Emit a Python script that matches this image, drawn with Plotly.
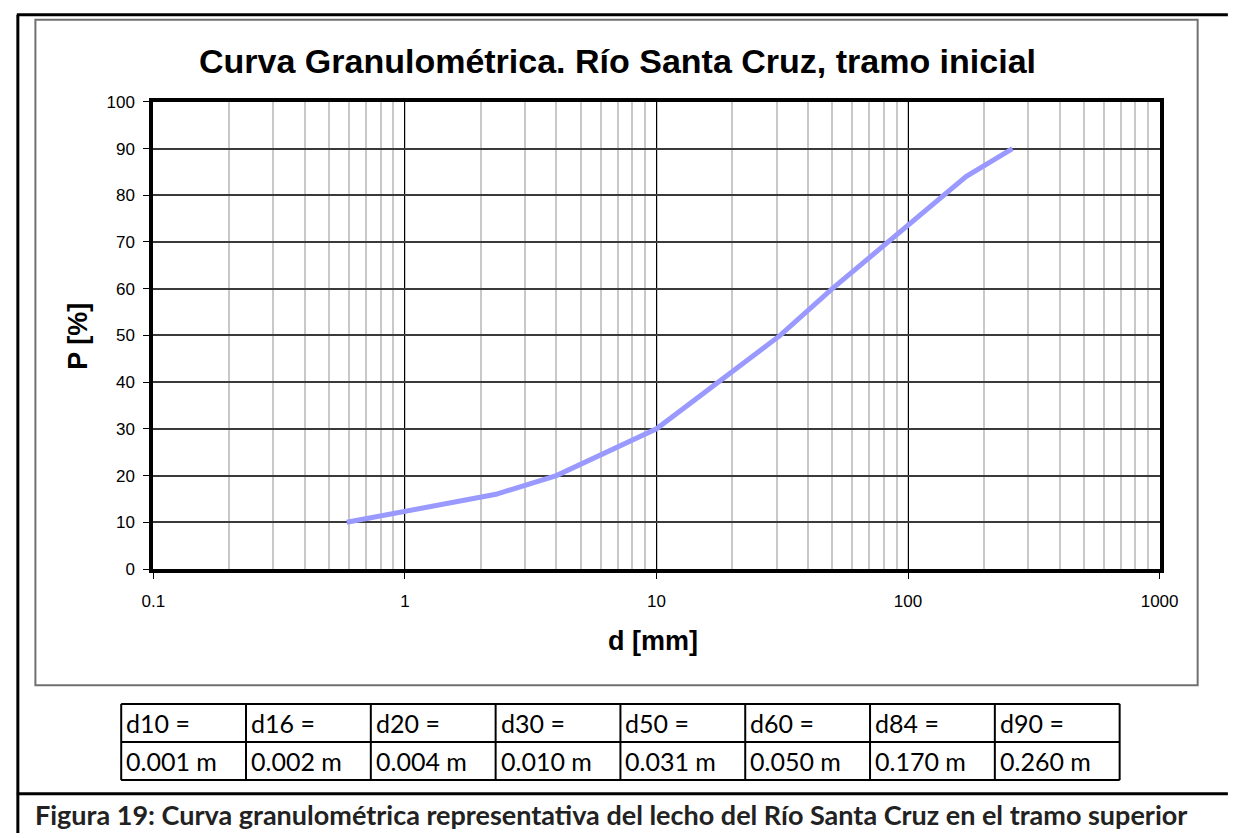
import plotly.graph_objects as go

# Grain-size distribution: diameter d [mm] vs percent finer P [%]
d_mm = [0.587, 2.3, 4.0, 10.0, 31.0, 50.0, 170.0, 260.0]
p_pct = [10, 16, 20, 30, 50, 60, 84, 90]

x_tickvals = [0.1, 1, 10, 100, 1000]
x_ticktext = ["0.1", "1", "10", "100", "1000"]
y_tickvals = [0, 10, 20, 30, 40, 50, 60, 70, 80, 90, 100]

title_text = "Curva Granulométrica. Río Santa Cruz, tramo inicial"
caption_text = ("Figura 19: Curva granulométrica representativa del lecho del "
                "Río Santa Cruz en el tramo superior")

W, H = 1242, 838


def px(x):
    return x / W


def py(y):
    return 1 - y / H


fig = go.Figure()
fig.add_trace(go.Scatter(
    x=d_mm, y=p_pct, mode="lines",
    line=dict(color="#9999FF", width=5),
    hoverinfo="x+y", showlegend=False,
))

axis_font = dict(family="Liberation Sans, Arial, sans-serif", size=17, color="#000000")

fig.update_xaxes(
    type="log", range=[-1, 3],
    domain=[px(145), px(1177)],
    tickvals=x_tickvals, ticktext=x_ticktext,
    ticks="outside", ticklen=6, tickwidth=1, tickcolor="#000000",
    tickfont=axis_font, ticklabelstandoff=8,
    showgrid=True, gridcolor="#000000", gridwidth=1,
    minor=dict(showgrid=True, gridcolor="#c8c8c8", gridwidth=1.5, dtick="D1", ticks=""),
    showline=True, linecolor="#000000", linewidth=4, mirror=True,
    zeroline=False, anchor="y",
)
fig.update_yaxes(
    range=[0, 100],
    domain=[py(573), py(95)],
    tickvals=y_tickvals,
    ticks="outside", ticklen=6, tickwidth=1, tickcolor="#000000",
    tickfont=axis_font, ticklabelstandoff=5,
    showgrid=True, gridcolor="#3a3a3a", gridwidth=1.5,
    showline=True, linecolor="#000000", linewidth=4, mirror=True,
    zeroline=False, anchor="x",
)

shapes = []
# outer page frame (left and top edges) and caption separator
shapes.append(dict(type="line", xref="paper", yref="paper",
                   x0=px(6), x1=px(6), y0=py(6), y1=py(H + 5),
                   line=dict(color="#000000", width=3)))
shapes.append(dict(type="line", xref="paper", yref="paper",
                   x0=px(5), x1=px(W + 5), y0=py(6), y1=py(6),
                   line=dict(color="#000000", width=3)))
shapes.append(dict(type="line", xref="paper", yref="paper",
                   x0=px(5), x1=px(W + 5), y0=py(803), y1=py(803),
                   line=dict(color="#000000", width=3)))
# chart area border
shapes.append(dict(type="rect", xref="paper", yref="paper",
                   x0=px(24), x1=px(1216), y0=py(692), y1=py(11),
                   line=dict(color="#707070", width=2), fillcolor="rgba(0,0,0,0)"))

annotations = []
annotations.append(dict(text=title_text, x=px(621), y=py(53), xref="paper", yref="paper",
                        showarrow=False, xanchor="center", yanchor="middle",
                        font=dict(family="Liberation Sans, Arial, sans-serif", size=34,
                                  color="#000000", weight="bold")))
annotations.append(dict(text="d [mm]", x=px(657), y=py(647), xref="paper", yref="paper",
                        showarrow=False, xanchor="center", yanchor="middle",
                        font=dict(family="Liberation Sans, Arial, sans-serif", size=27,
                                  color="#000000", weight="bold")))
annotations.append(dict(text="P [%]", x=px(68), y=py(335), xref="paper", yref="paper",
                        showarrow=False, xanchor="center", yanchor="middle", textangle=-90,
                        font=dict(family="Liberation Sans, Arial, sans-serif", size=27,
                                  color="#000000", weight="bold")))

# characteristic diameters table, built from the curve data
tbl_left, tbl_right = 112, 1136
tbl_top, tbl_mid, tbl_bot = 711, 750, 789
ncol = len(d_mm)
col_w = (tbl_right - tbl_left) / ncol
for yy in (tbl_top, tbl_mid, tbl_bot):
    shapes.append(dict(type="line", xref="paper", yref="paper",
                       x0=px(tbl_left), x1=px(tbl_right), y0=py(yy), y1=py(yy),
                       line=dict(color="#000000", width=2)))
for i in range(ncol + 1):
    xc = tbl_left + i * col_w
    shapes.append(dict(type="line", xref="paper", yref="paper",
                       x0=px(xc), x1=px(xc), y0=py(tbl_top), y1=py(tbl_bot),
                       line=dict(color="#000000", width=2)))

cell_font = dict(family="Lato, sans-serif", size=25, color="#000000")
for i, (d, p) in enumerate(zip(d_mm, p_pct)):
    x0 = tbl_left + i * col_w + 3
    annotations.append(dict(text=f"d{p} =", x=px(x0), y=py((tbl_top + tbl_mid) / 2),
                            xref="paper", yref="paper", showarrow=False,
                            xanchor="left", yanchor="middle", font=cell_font))
    annotations.append(dict(text=f"{d / 1000:.3f} m", x=px(x0), y=py((tbl_mid + tbl_bot) / 2),
                            xref="paper", yref="paper", showarrow=False,
                            xanchor="left", yanchor="middle", font=cell_font))

annotations.append(dict(text=caption_text, x=px(614), y=py(824), xref="paper", yref="paper",
                        showarrow=False, xanchor="center", yanchor="middle",
                        font=dict(family="Lato, sans-serif", size=27, color="#222222",
                                  weight="bold")))

fig.update_layout(
    width=W, height=H, autosize=False,
    margin=dict(l=0, r=0, t=0, b=0, pad=0),
    paper_bgcolor="#ffffff", plot_bgcolor="#ffffff",
    shapes=shapes, annotations=annotations,
    showlegend=False,
)

fig.write_html("out.html")
